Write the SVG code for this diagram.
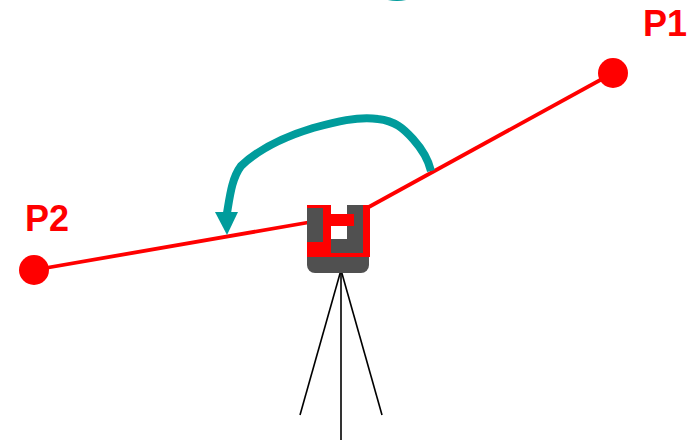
<svg xmlns="http://www.w3.org/2000/svg" width="691" height="440" viewBox="0 0 691 440">
<style>
.red{fill:#ff0000}.gray{fill:#505050}.ray{stroke:#ff0000;stroke-width:3.8;fill:none}
.leg{stroke:#000;stroke-width:1.6;fill:none}
.lbl{font-family:"Liberation Sans",Arial,sans-serif;font-weight:700;font-size:36px;fill:#ff0000}
.teal{stroke:#009c9c;stroke-width:8;fill:none}
</style>
<rect width="691" height="440" fill="#fff"/>
<g id="connectors">
<line class="ray" x1="613" y1="73" x2="367" y2="208"/>
<line class="ray" x1="34" y1="270" x2="308" y2="222.5"/>
<path d="M384 -1 Q397 3 410 -1 Z" fill="#009c9c"/>
<path class="teal" d="M431 171 C428 158 422 149 413 139 C403 128 395 121 378 119 C358 116 335 122 313 128 C290 135 262 146 241 166 C232 178 230 195 227 213"/>
<polygon points="215,212 238,212 227,235" fill="#009c9c"/>
</g>
<g id="instrument">
<line class="leg" x1="341" y1="270" x2="300" y2="415"/>
<line class="leg" x1="341" y1="270" x2="341" y2="440"/>
<line class="leg" x1="341" y1="270" x2="382" y2="415"/>
<path d="M307 256H369V265a8 8 0 0 1-8 8H315a8 8 0 0 1-8-8Z" class="gray"/>
<rect class="red" x="307" y="205" width="24" height="52"/>
<rect class="gray" x="307" y="208" width="16" height="34"/>
<rect class="gray" x="331" y="239" width="32" height="15"/>
<rect class="gray" x="347" y="205" width="16" height="49"/>
<rect class="red" x="363" y="205" width="7" height="52"/>
<rect class="red" x="307" y="253" width="63" height="4"/>
<rect class="red" x="331" y="214" width="23" height="12"/>
</g>
<g id="p1"><circle class="red" cx="613" cy="73" r="15"/><text class="lbl" x="643" y="36">P1</text></g>
<g id="p2"><circle class="red" cx="34" cy="270" r="15"/><text class="lbl" x="25" y="231">P2</text></g>
</svg>
